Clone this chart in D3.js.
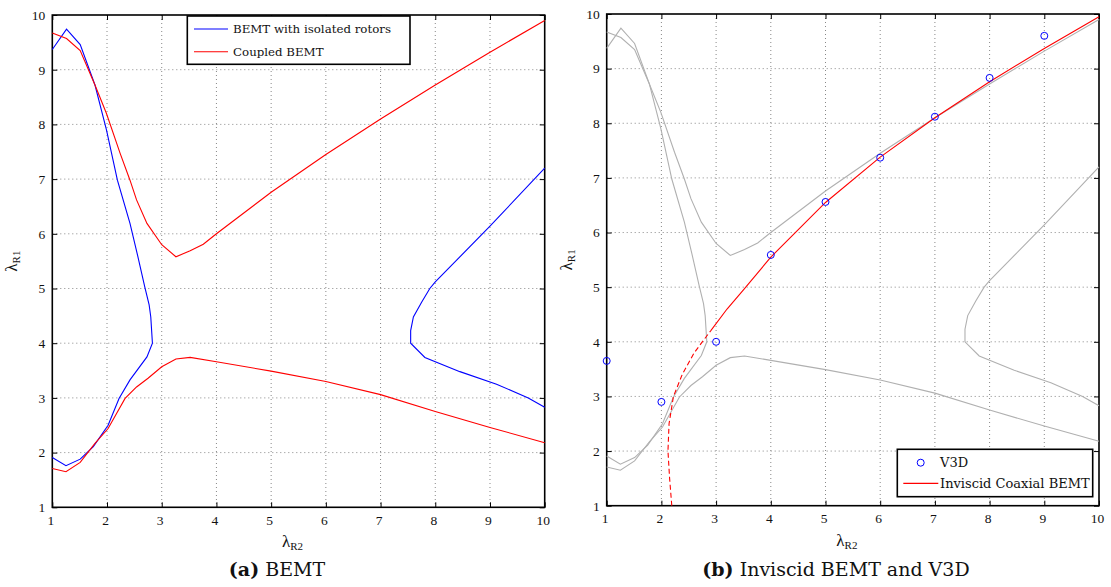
<!DOCTYPE html>
<html>
<head>
<script src="https://d3js.org/d3.v7.min.js"></script>
<style>
  html, body { margin: 0; padding: 0; background: #fff; }
  svg { display: block; }
  .tick text { font-family: "Liberation Serif", serif; font-size: 13.5px; fill: #111; }
  .grid line { stroke: #888; stroke-width: 1; stroke-dasharray: 1,3; }
</style>
</head>
<body>
<svg id="fig" width="1111" height="587"></svg>
<script>
// ---- data ----
const xTicks = [1, 2, 3, 4, 5, 6, 7, 8, 9, 10];
const yTicks = [1, 2, 3, 4, 5, 6, 7, 8, 9, 10];

// BEMT with isolated rotors: left branch (top -> bottom) and right branch
const isolatedLeft = [[1.0,9.37],[1.26,9.74],[1.51,9.46],[1.78,8.72],[1.99,7.9],[2.19,6.98],[2.42,6.19],
  [2.56,5.6],[2.69,5.03],[2.77,4.7],[2.80,4.48],[2.83,4.0],[2.73,3.75],[2.42,3.33],[2.22,2.99],
  [2.02,2.50],[1.75,2.11],[1.51,1.88],[1.25,1.76],[1.0,1.91]];
const isolatedRight = [[10,7.20],[9.0,6.14],[8.0,5.12],[7.90,5.0],[7.75,4.75],[7.60,4.48],[7.55,4.23],
  [7.55,4.0],[7.81,3.74],[8.45,3.48],[9.12,3.25],[9.70,3.0],[10,2.83]];

// Coupled BEMT: upper and lower branch
const coupledUpper = [[1.0,9.67],[1.26,9.57],[1.51,9.35],[1.78,8.72],[1.99,8.2],[2.24,7.47],[2.42,6.98],
  [2.54,6.62],[2.73,6.19],[3.0,5.80],[3.26,5.58],[3.52,5.69],[3.76,5.81],[4.0,6.0],[5.0,6.76],
  [6.0,7.45],[7.0,8.1],[8.0,8.72],[9.0,9.32],[10,9.9]];
const coupledLower = [[1.0,1.71],[1.25,1.65],[1.51,1.82],[1.78,2.17],[2.02,2.44],[2.33,2.99],[2.54,3.2],
  [2.75,3.36],[3.0,3.57],[3.26,3.71],[3.52,3.74],[4.0,3.66],[5.0,3.49],[6.0,3.3],[7.0,3.06],
  [8.0,2.75],[9.0,2.46],[10,2.18]];

// Inviscid coaxial BEMT (dashed part, then solid part)
const inviscidDashed = [[2.19,1.0],[2.15,1.5],[2.12,2.0],[2.14,2.5],[2.22,3.0],[2.38,3.4],[2.6,3.8],[2.9,4.2]];
const inviscidSolid = [[2.9,4.2],[3.2,4.6],[3.5,4.95],[4.0,5.55],[5.0,6.55],[6.0,7.38],[7.0,8.1],
  [8.0,8.76],[9.0,9.37],[10,9.95]];

// V3D points
const v3dX = [1, 2, 3, 4, 5, 6, 7, 8, 9];
const v3dY = [3.65, 2.9, 4.0, 5.59, 6.56, 7.37, 8.12, 8.83, 9.6];

// ---- drawing ----
const svg = d3.select("#fig");

function panel(box) {
  const x = d3.scaleLinear().domain([1, 10]).range([box.left, box.right]);
  const y = d3.scaleLinear().domain([1, 10]).range([box.bottom, box.top]);
  const g = svg.append("g");

  // dotted grid
  const grid = g.append("g").attr("class", "grid");
  grid.selectAll(".gx").data(xTicks.slice(1, -1)).join("line")
    .attr("x1", d => x(d)).attr("x2", d => x(d)).attr("y1", box.top).attr("y2", box.bottom);
  grid.selectAll(".gy").data(yTicks.slice(1, -1)).join("line")
    .attr("y1", d => y(d)).attr("y2", d => y(d)).attr("x1", box.left).attr("x2", box.right);

  // axes with inward ticks
  const ax = (gen, tr) => g.append("g").attr("transform", tr).call(gen)
    .call(s => s.select(".domain").remove())
    .call(s => s.selectAll(".tick line").attr("stroke", "#000"));
  ax(d3.axisBottom(x).tickValues(xTicks).tickSize(-5).tickPadding(8).tickFormat(d3.format("d")),
    `translate(0,${box.bottom})`).selectAll("text").attr("dx", -2);
  ax(d3.axisTop(x).tickValues(xTicks).tickSize(-5).tickFormat(""), `translate(0,${box.top})`);
  ax(d3.axisLeft(y).tickValues(yTicks).tickSize(-5).tickPadding(7).tickFormat(d3.format("d")),
    `translate(${box.left},0)`);
  ax(d3.axisRight(y).tickValues(yTicks).tickSize(-5).tickFormat(""), `translate(${box.right},0)`);

  // frame
  g.append("rect").attr("x", box.left).attr("y", box.top)
    .attr("width", box.right - box.left).attr("height", box.bottom - box.top)
    .attr("fill", "none").attr("stroke", "#000").attr("stroke-width", 1.6);

  // axis labels
  const cx = (box.left + box.right) / 2, cy = (box.top + box.bottom) / 2;
  const xl = g.append("text").attr("x", cx - 6).attr("y", box.bottom + 40)
    .attr("text-anchor", "middle").attr("font-family", "Liberation Serif").attr("font-size", 17).attr("fill", "#111");
  xl.append("tspan").text("λ");
  xl.append("tspan").attr("font-size", 11).attr("dy", 3).text("R2");
  const yl = g.append("text").attr("transform", `translate(${box.left - 35},${cy}) rotate(-90)`)
    .attr("text-anchor", "middle").attr("font-family", "Liberation Serif").attr("font-size", 17).attr("fill", "#111");
  yl.append("tspan").text("λ");
  yl.append("tspan").attr("font-size", 11).attr("dy", 3).text("R1");

  return { g, x, y };
}

const A = panel({ left: 52.3, right: 544.7, top: 15, bottom: 507.3 });
const B = panel({ left: 606.7, right: 1099, top: 14, bottom: 505.7 });

function curve(p, data, color, dash) {
  const line = d3.line().x(d => p.x(d[0])).y(d => p.y(d[1]));
  p.g.append("path").datum(data).attr("d", line).attr("fill", "none")
    .attr("stroke", color).attr("stroke-width", 1.1)
    .attr("stroke-dasharray", dash || null);
}

// (a) BEMT
curve(A, isolatedLeft, "#0000ff");
curve(A, isolatedRight, "#0000ff");
curve(A, coupledUpper, "#ff0000");
curve(A, coupledLower, "#ff0000");

// (b) Inviscid BEMT and V3D
[isolatedLeft, isolatedRight, coupledUpper, coupledLower].forEach(c => curve(B, c, "#b0b0b0"));
curve(B, inviscidDashed, "#ff0000", "5,3");
curve(B, inviscidSolid, "#ff0000");
B.g.selectAll(".v3d").data(v3dX).join("circle")
  .attr("cx", d => B.x(d)).attr("cy", (d, i) => B.y(v3dY[i])).attr("r", 3.5)
  .attr("fill", "none").attr("stroke", "#0000ff").attr("stroke-width", 1);

// legend (a)
const la = svg.append("g");
la.append("rect").attr("x", 187.3).attr("y", 16).attr("width", 222.7).attr("height", 48.3)
  .attr("fill", "#fff").attr("stroke", "#000").attr("stroke-width", 1.6);
[["BEMT with isolated rotors", "#0000ff", 29], ["Coupled BEMT", "#ff0000", 51.7]].forEach(([t, c, yy]) => {
  la.append("line").attr("x1", 194).attr("x2", 228).attr("y1", yy).attr("y2", yy).attr("stroke", c).attr("stroke-width", 1.1);
  la.append("text").attr("x", 233).attr("y", yy + 4.2).attr("font-family", "DejaVu Serif")
    .attr("font-size", 11.8).attr("fill", "#111").text(t);
});

// legend (b)
const lb = svg.append("g");
lb.append("rect").attr("x", 897.3).attr("y", 449.3).attr("width", 195.4).attr("height", 47.4)
  .attr("fill", "#fff").attr("stroke", "#000").attr("stroke-width", 1.6);
lb.append("circle").attr("cx", 920.7).attr("cy", 462.7).attr("r", 3.5)
  .attr("fill", "none").attr("stroke", "#0000ff").attr("stroke-width", 1);
lb.append("text").attr("x", 940).attr("y", 467.3).attr("font-family", "DejaVu Serif")
  .attr("font-size", 13).attr("fill", "#111").text("V3D");
lb.append("line").attr("x1", 903.3).attr("x2", 938.3).attr("y1", 483.3).attr("y2", 483.3)
  .attr("stroke", "#ff0000").attr("stroke-width", 1.3);
lb.append("text").attr("x", 940).attr("y", 488).attr("font-family", "DejaVu Serif")
  .attr("font-size", 13).attr("fill", "#111").text("Inviscid Coaxial BEMT");

// captions
[["(a)", " BEMT", 277], ["(b)", " Inviscid BEMT and V3D", 836]].forEach(([b, t, cx]) => {
  const cap = svg.append("text").attr("x", cx).attr("y", 576).attr("text-anchor", "middle")
    .attr("font-family", "DejaVu Serif").attr("font-size", 19).attr("fill", "#111");
  cap.append("tspan").attr("font-weight", "bold").text(b);
  cap.append("tspan").text(t);
});
</script>
</body>
</html>
